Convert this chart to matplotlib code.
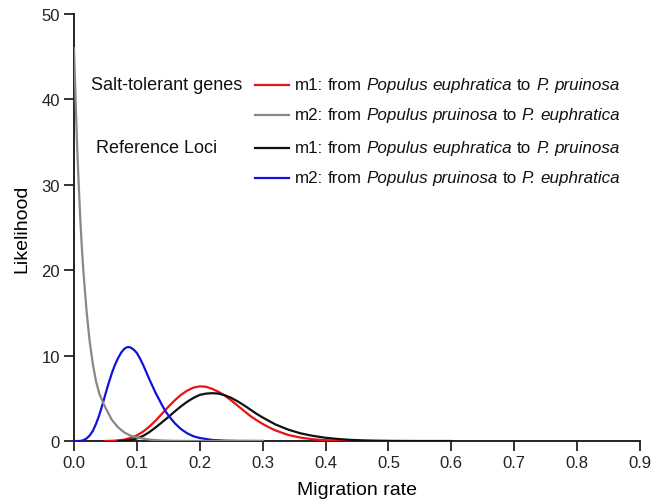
import matplotlib
matplotlib.use("Agg")
import matplotlib.pyplot as plt
from matplotlib.lines import Line2D

plt.rcParams['font.family'] = ['Liberation Sans', 'DejaVu Sans']

# ---- data ----
x_grey = [0, .0025, .005, .0075, .01, .0125, .015, .02, .025, .03, .035, .04, .045, .05,
          .06, .07, .08, .09, .10, .12, .14, .16, .20, .25, .30]
y_grey = [46, 40, 34.5, 30, 26, 22.6, 19.8, 15.2, 11.6, 9.0, 7.0, 5.6, 4.7, 3.9,
          2.5, 1.6, 1.0, 0.62, 0.4, 0.16, 0.06, 0.02, 0.0, 0.0, 0.0]

x_blue = [0.0, .01, .015, .02, .025, .03, .035, .04, .045, .05, .055, .06, .065, .07, .075,
          .08, .084, .087, .09, .095, .10, .105, .11, .115, .12, .125, .13, .135,
          .14, .145, .15, .16, .17, .18, .19, .20, .22, .24, .26, .30]
y_blue = [0.0, 0.0, 0.1, 0.3, 0.65, 1.2, 2.0, 3.0, 4.2, 5.5, 6.75, 7.9, 8.9, 9.7, 10.35,
          10.8, 10.97, 11.0, 10.95, 10.7, 10.3, 9.65, 8.9, 8.05, 7.2, 6.4, 5.6, 4.9,
          4.2, 3.55, 3.0, 2.1, 1.4, 0.9, 0.55, 0.35, 0.12, 0.04, 0.01, 0.0]

x_red = [.05, .06, .07, .08, .09, .10, .11, .12, .13, .14, .15, .16, .17, .18, .19, .20,
         .21, .22, .23, .24, .25, .26, .27, .28, .29, .30, .31, .32, .34, .36, .38, .40,
         .42, .44, .46, .50]
y_red = [0.0, 0.02, 0.07, 0.17, 0.36, 0.65, 1.1, 1.7, 2.4, 3.2, 4.0, 4.75, 5.4, 5.9, 6.25, 6.4,
         6.35, 6.1, 5.75, 5.3, 4.75, 4.15, 3.55, 2.95, 2.45, 2.0, 1.6, 1.25, 0.72, 0.4, 0.2, 0.1,
         0.045, 0.02, 0.0, 0.0]

x_black = [.07, .08, .09, .10, .11, .12, .13, .14, .15, .16, .17, .18, .19, .20, .21, .22,
           .23, .24, .25, .26, .27, .28, .29, .30, .32, .34, .36, .38, .40, .42, .44, .46,
           .48, .50, .55, .60]
y_black = [0.0, 0.03, 0.12, 0.3, 0.6, 1.05, 1.6, 2.2, 2.8, 3.45, 4.05, 4.6, 5.05, 5.4, 5.55, 5.6,
           5.55, 5.35, 5.05, 4.65, 4.2, 3.7, 3.2, 2.75, 1.95, 1.35, 0.9, 0.6, 0.38, 0.23, 0.13, 0.07,
           0.035, 0.015, 0.0, 0.0]

x_ticks = [0.0, 0.1, 0.2, 0.3, 0.4, 0.5, 0.6, 0.7, 0.8, 0.9]
y_ticks = [0, 10, 20, 30, 40, 50]

groups = ["Salt-tolerant genes", "Reference Loci"]
# each legend label as (text, italic?) words
label_m1 = [("m1:", False), ("from", False), ("Populus", True), ("euphratica", True),
            ("to", False), ("P.", True), ("pruinosa", True)]
label_m2 = [("m2:", False), ("from", False), ("Populus", True), ("pruinosa", True),
            ("to", False), ("P.", True), ("euphratica", True)]
labels = [label_m1, label_m2, label_m1, label_m2]
colors = ["#ee1111", "#888888", "#111111", "#1111dd"]

# ---- figure ----
W, H = 651, 502
fig = plt.figure(figsize=(W / 100, H / 100), dpi=100)
ax = fig.add_axes([74 / W, 1 - 442 / H, (640 - 74) / W, (442 - 15) / H])

lw = 1.6
ax.plot(x_red, y_red, color=colors[0], lw=lw, zorder=3)
ax.plot(x_black, y_black, color=colors[2], lw=lw, zorder=3)
ax.plot(x_blue, y_blue, color=colors[3], lw=lw, zorder=3)
ax.plot(x_grey, y_grey, color=colors[1], lw=lw, zorder=3)

ax.set_xlim(0, 0.9)
ax.set_ylim(0, 50)
ax.set_xticks(x_ticks)
ax.set_xticklabels([f"{v:.1f}" for v in x_ticks])
ax.set_yticks(y_ticks)
for s in ['top', 'right']:
    ax.spines[s].set_visible(False)
for s in ['left', 'bottom']:
    ax.spines[s].set_linewidth(1.4)
    ax.spines[s].set_color('#222222')
ax.tick_params(axis='both', direction='out', length=7, width=1.3, labelsize=12,
               colors='#222222', pad=3)
ax.set_xlabel("Migration rate", fontsize=14, labelpad=8)
ax.set_ylabel("Likelihood", fontsize=14, labelpad=8)

# ---- legend (manual) ----
renderer = fig.canvas.get_renderer()
fs = 12.25
probe1 = fig.text(0, 0, "a a", fontsize=fs)
probe2 = fig.text(0, 0, "aa", fontsize=fs)
space_px = (probe1.get_window_extent(renderer).width -
            probe2.get_window_extent(renderer).width)
probe1.remove()
probe2.remove()

rows_y = [85.8, 115.6, 149, 178.5]
for yy, words, col in zip(rows_y, labels, colors):
    fy = 1 - yy / H
    fig.add_artist(Line2D([255 / W, 289 / W], [fy, fy], color=col, lw=1.6,
                          transform=fig.transFigure))
    cursor = 294.6
    for word, ital in words:
        t = fig.text(cursor / W, fy - 4.5 / H, word, fontsize=fs, va='baseline', ha='left',
                     color='#111111', style='italic' if ital else 'normal')
        cursor += t.get_window_extent(renderer).width + space_px

fig.text(90.8 / W, 1 - rows_y[0] / H, groups[0], fontsize=13, va='center', ha='left',
         color='#111111')
fig.text(96 / W, 1 - rows_y[2] / H, groups[1], fontsize=13, va='center', ha='left',
         color='#111111')

fig.savefig("out.png", dpi=100)
